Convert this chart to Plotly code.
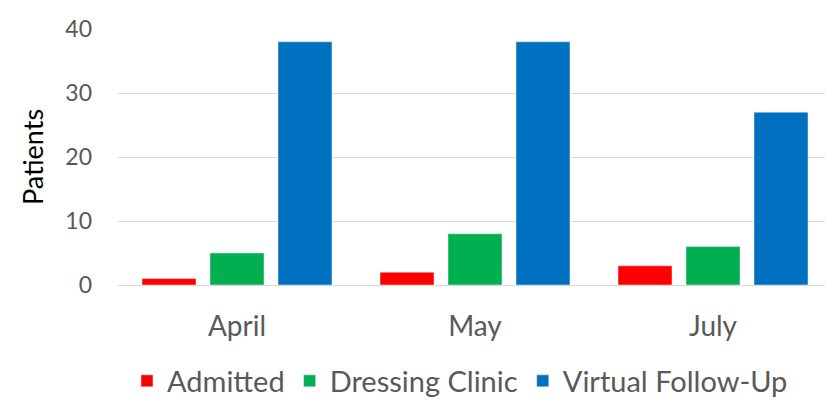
import plotly.graph_objects as go

months = ["April", "May", "July"]
admitted = [1, 2, 3]
dressing_clinic = [5, 8, 6]
virtual_follow_up = [38, 38, 27]
y_ticks = [0, 10, 20, 30, 40]

font_family = "Lato, Carlito, 'Open Sans', sans-serif"
grey = "#595959"

fig = go.Figure()
fig.add_bar(x=months, y=admitted, name="Admitted", marker_color="#FF0000",
            legendgroup="a")
fig.add_bar(x=months, y=dressing_clinic, name="Dressing Clinic", marker_color="#00B050",
            legendgroup="b")
fig.add_bar(x=months, y=virtual_follow_up, name="Virtual Follow-Up", marker_color="#0070C0",
            legendgroup="c")

fig.update_layout(
    width=833, height=403,
    margin=dict(l=110, r=9, t=21, b=126, autoexpand=False),
    paper_bgcolor="white", plot_bgcolor="white",
    barmode="group", bargap=0.143, bargroupgap=0.206,
    font=dict(family=font_family, size=24, color=grey),
    showlegend=True,
    legend=dict(orientation="h", xref="container", yref="container",
                x=0.5426, xanchor="center", y=0.0744, yanchor="middle",
                font=dict(size=29, color=grey), tracegroupgap=12,
                traceorder="normal"),
    xaxis=dict(showgrid=False, showline=False, zeroline=False,
               ticks="", ticklabelstandoff=22,
               tickfont=dict(size=28, color=grey)),
    yaxis=dict(range=[0, 40], tickvals=y_ticks, showgrid=True,
               gridcolor="#D9D9D9", gridwidth=1.3, zeroline=True,
               zerolinecolor="#D9D9D9", zerolinewidth=1.3,
               showline=False, ticks="", ticklabelstandoff=25,
               tickfont=dict(size=23, color=grey),
               title=dict(text="Patients", font=dict(size=27, color="black"),
                          standoff=13)),
)

fig.write_html("out.html")
